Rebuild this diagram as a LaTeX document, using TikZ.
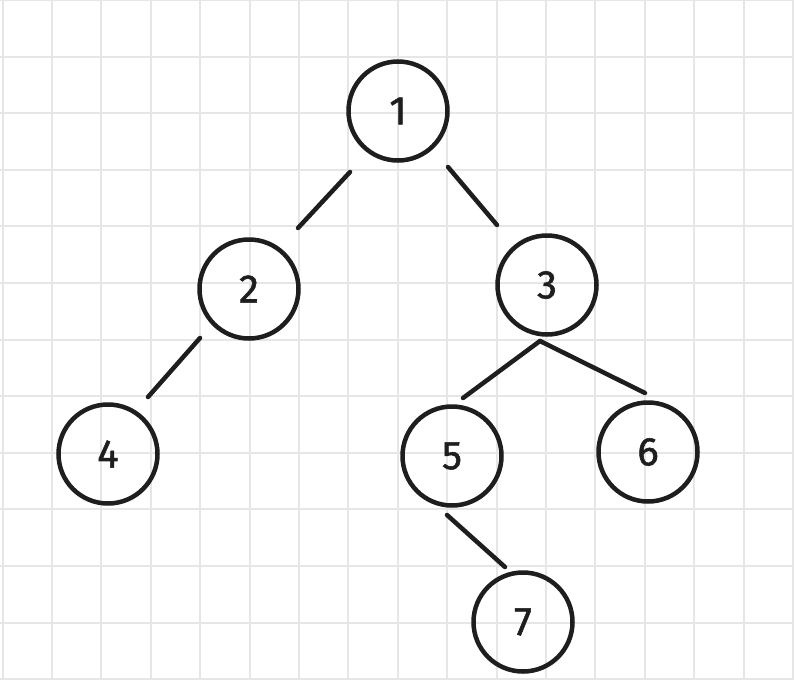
\documentclass[tikz,border=0pt]{standalone}
\usepackage{fontspec}
\setmainfont{Fira Sans}
\newfontfamily\digitfont[AutoFakeBold=1.3]{Fira Sans}
\usetikzlibrary{calc}
\definecolor{ink}{RGB}{30,30,30}
\definecolor{gridc}{RGB}{230,230,230}
\tikzset{
  gridline/.style={draw=gridc, line width=2pt},
  treenode/.style={circle, draw=ink, line width=4.5pt, minimum size=99pt, inner sep=0pt, font=\digitfont\fontsize{40}{40}\selectfont\bfseries, text=ink},
  edge/.style={draw=ink, line width=4.5pt, line cap=round}
}
\begin{document}
\begin{tikzpicture}[x=1pt,y=-1pt]
\useasboundingbox[fill=white] (0,0) rectangle (794,680);
\foreach \k in {0,...,16} {\draw[gridline] ({2.5+49.4*\k},0) -- ({2.5+49.4*\k},680);}
\foreach \k in {0,...,12} {\draw[gridline] (0,{56.6*\k}) -- (794,{56.6*\k});}
\node[treenode] (n1) at (398,111) {1};
\node[treenode] (n2) at (249,289) {2};
\node[treenode] (n3) at (547,285) {3};
\node[treenode] (n4) at (108,454) {4};
\node[treenode] (n5) at (452,456) {5};
\node[treenode] (n6) at (648,452) {6};
\node[treenode] (n7) at (523,622) {7};
\draw[edge] ($(n1)+(-48,61)$) -- ($(n2)+(49,-61)$);
\draw[edge] ($(n1)+(50,56)$) -- ($(n3)+(-50,-60)$);
\draw[edge] ($(n2)+(-49,49)$) -- ($(n4)+(40,-57)$);
\draw[edge] ($(n3)+(-7,56)$) -- ($(n5)+(11,-58)$);
\draw[edge] ($(n3)+(-7,56)$) -- ($(n6)+(-3,-59)$);
\draw[edge] ($(n5)+(-5,59)$) -- ($(n7)+(-18,-55)$);
\end{tikzpicture}
\end{document}
